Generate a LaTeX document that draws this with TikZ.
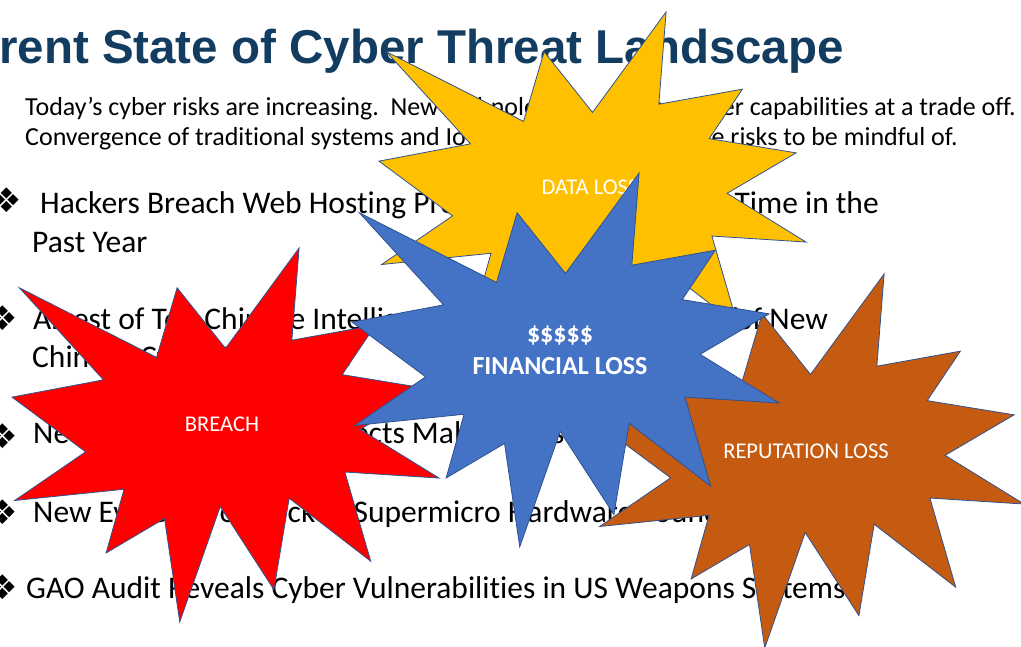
\documentclass[tikz,border=0pt]{standalone}
\usepackage{fontspec}
\setmainfont{Carlito}[Ligatures=CommonOff]
\newfontfamily\titlefont{Liberation Sans}
\newfontfamily\symfont{DejaVu Sans}

\definecolor{titleblue}{RGB}{18,60,96}
\definecolor{boomedge}{RGB}{47,82,143}
\definecolor{datagold}{RGB}{255,192,0}
\definecolor{breachred}{RGB}{255,0,0}
\definecolor{moneyblue}{RGB}{68,114,196}
\definecolor{repbrown}{RGB}{197,90,17}

\tikzset{
  boom/.pic={
    \path[pic actions] (108,58) -- (83.52,22.95) -- (73.12,63.2) -- (3.7,22.95) -- (46.27,76.17) -- (0,86.15)
      -- (37.22,117.75) -- (1.35,145.87) -- (56.67,139.37) -- (47.62,176.17) -- (77.15,156.27) -- (84.85,216)
      -- (105.32,149.35) -- (132.47,197.37) -- (140.2,144.57) -- (181.45,180.95) -- (168.37,129.42) -- (216,132.9)
      -- (176.07,104.75) -- (210.97,81.37) -- (167.02,73.15) -- (183.8,44.57) -- (141.55,53.25) -- (145.22,0) -- cycle;
  },
  boomline/.style={draw=boomedge,line width=0.8pt,line join=miter,xscale=1.977,yscale=1.731},
  intro/.style={anchor=base west,inner sep=0,font=\fontsize{26}{30}\selectfont},
  headline/.style={anchor=base west,inner sep=0,font=\fontsize{31.5}{36}\selectfont},
  bulletmark/.style={inner sep=0,font=\symfont\fontsize{34}{38}\selectfont},
  boomlabel/.style={inner sep=0,text=white,font=\fontsize{22.5}{26}\selectfont}
}

\begin{document}
\begin{tikzpicture}[x=1pt,y=-1pt]
\useasboundingbox (0,0) rectangle (1021,646);

% title and intro
\node[anchor=base west,inner sep=0,text=titleblue,font=\titlefont\bfseries\fontsize{47.5}{56}\selectfont] (title) at (-1,63) {rent State of Cyber Threat Landscape};
\node[intro] (introa) at (25,115) {Today’s cyber risks are increasing.\ \ New technologies};
\node[intro,anchor=base east] (introb) at (1016,115) {offer greater capabilities at a trade off.};
\node[intro] (introc) at (25,145) {Convergence of traditional systems and IoT};
\node[intro,anchor=base east] (introd) at (958,145) {introduces more risks to be mindful of.};

% bullets
\node[bulletmark] (mark1) at (7,200) {❖};
\node[bulletmark] (mark2) at (3,318) {❖};
\node[bulletmark] (mark3) at (3,436) {❖};
\node[bulletmark] (mark4) at (3,512) {❖};
\node[bulletmark] (mark5) at (3,587) {❖};

\node[headline] (news1) at (40,213) {Hackers Breach Web Hosting Provider for the};
\node[headline,anchor=base east] (news1b) at (879,213) {Third Time in the};
\node[headline] (news1c) at (32,252) {Past Year};
\node[headline] (news2) at (33,329) {Arrest of Top Chinese Intelligence Officer Reveals Details};
\node[headline,anchor=base east] (news2b) at (828,329) {of New};
\node[headline] (news2c) at (32,367) {Chinese Cyber Espionage};
\node[headline] (news3) at (33,443) {New Security Service Detects Malware Issues};
\node[headline] (news4) at (33,522) {New Evidence of Hacked Supermicro Hardware Found in U.S. Telecom};
\node[headline] (news5) at (26,598) {GAO Audit Reveals Cyber Vulnerabilities in US Weapons Systems};

% starbursts
\pic[boomline,fill=datagold] at (379,12) {boom};
\node[boomlabel] (dataloss) at (590,187) {DATA LOSS};

\pic[boomline,fill=breachred] at (12,248) {boom};
\node[boomlabel] (breach) at (222,424) {BREACH};

\pic[boomline,fill=repbrown] at (597,274) {boom};
\node[boomlabel] (reploss) at (806,451) {REPUTATION LOSS};

\pic[boomline,fill=moneyblue] at (352,173) {boom};
\node[boomlabel,font=\bfseries\fontsize{26}{32}\selectfont,align=center] (finloss) at (560,350) {\$\$\$\$\$\\FINANCIAL LOSS};
\end{tikzpicture}
\end{document}
